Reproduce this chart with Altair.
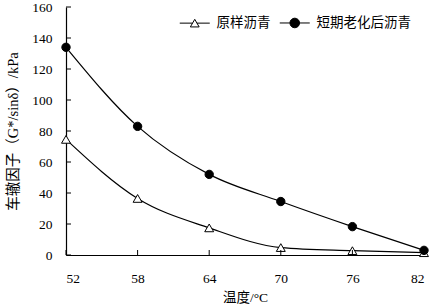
import altair as alt
import pandas as pd

temps = [52, 58, 64, 70, 76, 82]
original = [74.6, 36.5, 17.5, 4.8, 2.8, 1.5]
aged = [134.0, 83.0, 52.0, 34.5, 18.3, 3.0]
series_names = ["原样沥青", "短期老化后沥青"]
x_ticks = [52, 58, 64, 70, 76, 82]
y_ticks = [0, 20, 40, 60, 80, 100, 120, 140, 160]

df = pd.DataFrame({
    "temp": temps * 2,
    "value": original + aged,
    "series": [series_names[0]] * len(temps) + [series_names[1]] * len(temps),
})
ytick_df = pd.DataFrame({"value": y_ticks})
xtick_df = pd.DataFrame({"temp": x_ticks})

FONT = "Liberation Serif, Noto Sans CJK SC"

xscale = alt.Scale(domain=[52, 82], nice=False, zero=False)
yscale = alt.Scale(domain=[0, 160], nice=False)

x_axis = alt.Axis(values=x_ticks, title="温度/°C", tickSize=0,
                  labelPadding=16, grid=False, titlePadding=6, labelOverlap=False)
y_axis = alt.Axis(values=y_ticks, title="车辙因子（G*/sinδ）/kPa",
                  tickSize=0, labelPadding=14, grid=False, titlePadding=11,
                  labelOverlap=False, titleFontSize=14.5)

x_enc = alt.X("temp:Q", scale=xscale, axis=x_axis)
y_enc = alt.Y("value:Q", scale=yscale, axis=y_axis)

lines = alt.Chart(df).mark_line(interpolate="monotone", color="black",
                                strokeWidth=1.2).encode(
    x=x_enc, y=y_enc, detail="series:N")

tri = alt.Chart(df).transform_filter(
    alt.datum.series == series_names[0]).mark_point(
    shape="triangle-up", filled=True, fill="white", stroke="black",
    strokeWidth=1, size=80, opacity=1).encode(x=x_enc, y=y_enc)

dots = alt.Chart(df).transform_filter(
    alt.datum.series == series_names[1]).mark_point(
    shape="circle", filled=True, fill="black", stroke="black",
    strokeWidth=1, size=70, opacity=1).encode(x=x_enc, y=y_enc)

tri_path = "M-3.75,0H-0.55M0.55,0H3.75M0,-0.95L1.1,0.95L-1.1,0.95Z"
dot_path = ("M-3.75,0H-1.2M1.2,0H3.75M1.2,0A1.2,1.2,0,1,1,-1.2,0"
            "A1.2,1.2,0,1,1,1.2,0Z")

legend = alt.Legend(orient="none", legendX=122, legendY=9, direction="horizontal",
                    title=None, symbolSize=64, symbolStrokeColor="black",
                    symbolStrokeWidth=1, labelOffset=15, columnPadding=6,
                    labelFont=FONT, labelFontSize=13.5, labelColor="black",
                    symbolOpacity=1)

leg_layer = alt.Chart(df).transform_filter("datum.temp < 0").mark_point(
    filled=True, strokeWidth=1, opacity=1, size=64).encode(
    x=x_enc, y=y_enc,
    shape=alt.Shape("series:N", scale=alt.Scale(domain=series_names,
                                                range=[tri_path, dot_path]),
                    legend=legend),
    fill=alt.Fill("series:N", scale=alt.Scale(domain=series_names,
                                              range=["white", "black"]),
                  legend=legend),
    stroke=alt.Stroke("series:N", scale=alt.Scale(domain=series_names,
                                                  range=["black", "black"]),
                      legend=legend),
)

yticks = alt.Chart(ytick_df).mark_rule(color="black", strokeWidth=1).encode(
    y=y_enc, x=alt.value(0), x2=alt.value(5))
xticks = alt.Chart(xtick_df).mark_rule(color="black", strokeWidth=1).encode(
    x=x_enc, y=alt.value(248), y2=alt.value(243))

chart = alt.layer(lines, tri, dots, leg_layer, yticks, xticks).properties(
    width=358, height=248,
    autosize=alt.AutoSizeParams(type="none"),
    padding={"left": 66, "top": 7, "right": 9, "bottom": 50},
).configure_axis(
    domainColor="black", domainWidth=1.2, labelFont=FONT, labelFontSize=13.5,
    labelColor="black", titleFont=FONT, titleFontSize=13.5, titleColor="black",
    titleFontWeight="normal",
).configure_view(stroke=None)

chart.save("out.html", embed_options={"renderer": "svg", "actions": False})
